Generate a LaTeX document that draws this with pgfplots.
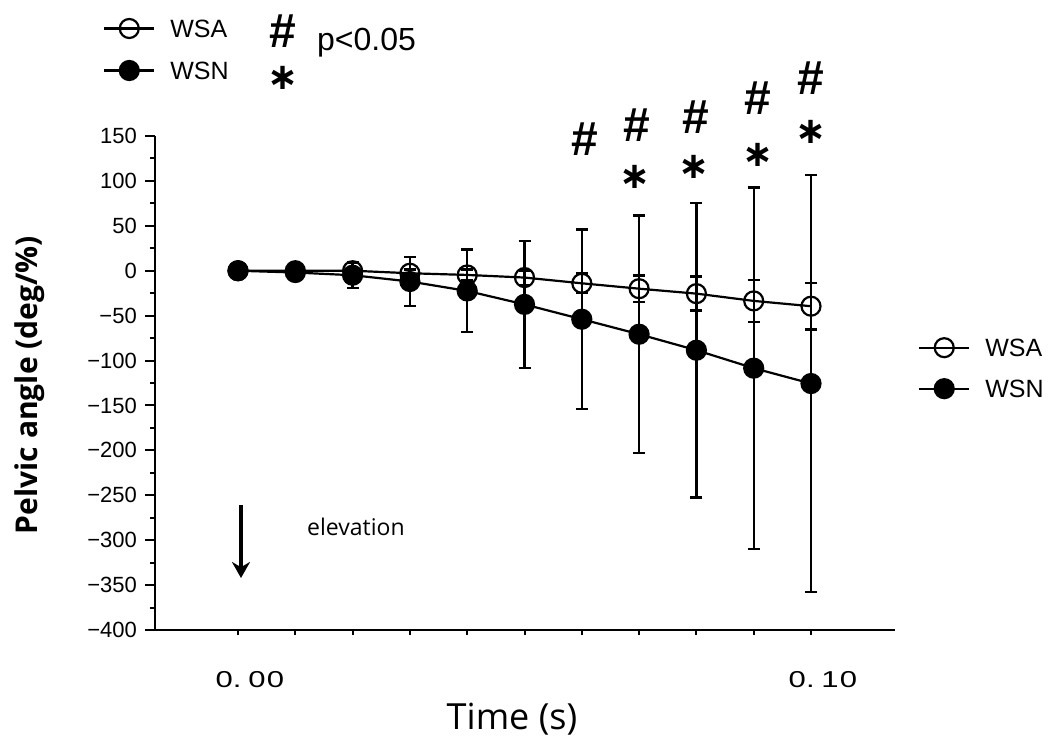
\documentclass[border=0pt]{standalone}
\usepackage{fontspec}
\setmainfont{Liberation Sans}
\newfontfamily\osans{Open Sans}
\newfontfamily\djv{DejaVu Sans}
\usepackage{graphicx}
\usepackage{pgfplots}
\usepackage{pgfplotstable}
\usetikzlibrary{arrows.meta}
\pgfplotsset{compat=1.18}

\pgfplotstableread{
x y e
0.00 0 0
0.01 0 1
0.02 0 2
0.03 -2.8 4
0.04 -4.7 6
0.05 -7.6 8
0.06 -14 11
0.07 -20 14.5
0.08 -25.5 19
0.09 -33.6 23.5
0.10 -39.5 26
}\wsa

\pgfplotstableread{
x y e
0.00 0 0
0.01 -2 3
0.02 -5 14
0.03 -12 27
0.04 -22.5 46
0.05 -37.5 70.5
0.06 -54 100
0.07 -70.7 132
0.08 -88.5 164
0.09 -108.5 201
0.10 -125.6 232
}\wsn

\pgfplotsset{
  commonaxis/.style={
    at={(155bp,110bp)}, anchor=south west,
    width=740bp, height=494bp, scale only axis,
    xmin=-0.014485, xmax=0.11466, ymin=-400, ymax=150,
    clip=false,
  },
  legimg/.style={
    legend image code/.code={
      \draw[mark repeat=2,mark phase=2,##1] plot coordinates {(0bp,0bp) (25bp,0bp) (50bp,0bp)};
    },
  },
  wsastyle/.style={black, line width=2.2bp, mark=o, mark size=9.5bp, mark options={line width=2.2bp, solid}},
  wsnstyle/.style={black, line width=2.2bp, mark=*, mark size=9.5bp, mark options={fill=black, solid}},
}

\begin{document}
\begin{tikzpicture}
\useasboundingbox (0,0) rectangle (1049bp,740bp);
\begin{axis}[
  commonaxis, legimg,
  axis x line*=bottom, axis y line*=left,
  axis line style={line width=2.5bp},
  tick align=outside,
  major tick length=10bp, minor tick length=5bp,
  tick style={line width=2bp, black},
  ytick={-400,-350,-300,-250,-200,-150,-100,-50,0,50,100,150},
  yticklabels={−400,−350,−300,−250,−200,−150,−100,−50,0,50,100,150},
  minor y tick num=1,
  xtick={0,0.1},
  xticklabels={\scalebox{1.35}[1]{0.\hspace{5bp}0\hspace{1bp}0},\scalebox{1.35}[1]{0.\hspace{5bp}1\hspace{1bp}0}},
  major x tick style={draw=none},
  minor xtick={0,0.01,0.02,0.03,0.04,0.05,0.06,0.07,0.08,0.09,0.1},
  yticklabel style={font=\fontsize{22bp}{24bp}\selectfont, inner sep=0pt, anchor=east, xshift=-8bp},
  xticklabel style={font=\fontsize{23bp}{25bp}\selectfont, inner sep=0pt, anchor=center, yshift=-40bp, xshift=12bp},
  legend style={draw=none, fill=none, at={(1.031,0.530)}, anchor=west, inner sep=0pt,
    font=\fontsize{25bp}{27bp}\selectfont, row sep=22bp, column sep=0pt,
    nodes={inner sep=0pt, text height=18bp, text depth=0pt},
    cells={anchor=west}},
  legend cell align=left,
]
\addplot+[wsastyle, error bars/.cd, y dir=both, y explicit,
  error bar style={line width=2.4bp, solid},
  error mark options={rotate=90, mark size=6bp, line width=2.4bp, black}]
  table[x=x, y=y, y error=e] {\wsa};
\addlegendentry{\hspace{15bp}WSA}
\addplot+[wsnstyle, error bars/.cd, y dir=both, y explicit,
  error bar style={line width=2.4bp, solid},
  error mark options={rotate=90, mark size=6bp, line width=2.4bp, black}]
  table[x=x, y=y, y error=e] {\wsn};
\addlegendentry{\hspace{15bp}WSN}
\end{axis}

\begin{axis}[
  commonaxis, legimg, hide axis,
  legend style={draw=none, fill=none, at={(-0.0703,1.1751)}, anchor=west, inner sep=0pt,
    font=\fontsize{25bp}{27bp}\selectfont, row sep=23bp, column sep=0pt,
    nodes={inner sep=0pt, text height=18bp, text depth=0pt},
    cells={anchor=west}},
]
\addlegendimage{wsastyle}
\addlegendentry{\hspace{15bp}WSA}
\addlegendimage{wsnstyle}
\addlegendentry{\hspace{15bp}WSN}
\end{axis}

% significance annotations
\tikzset{hash/.style={font=\bfseries\fontsize{48bp}{50bp}\selectfont, inner sep=0pt},
         ast/.style={font=\djv\bfseries\fontsize{37bp}{39bp}\selectfont, inner sep=0pt}}
\node[hash] at (283bp,709bp) {\#};
\node[ast] at (283bp,662bp) {∗};
\node[anchor=west, inner sep=0pt, font=\fontsize{32bp}{34bp}\selectfont] at (317bp,697bp) {p<0.05};

\node[hash] at (585bp,601bp) {\#};
\node[hash] at (637bp,615bp) {\#};
\node[ast] at (635bp,563bp) {∗};
\node[hash] at (696bp,623bp) {\#};
\node[ast] at (694bp,573bp) {∗};
\node[hash] at (758bp,642bp) {\#};
\node[ast] at (758bp,585bp) {∗};
\node[hash] at (811bp,662bp) {\#};
\node[ast] at (811bp,608bp) {∗};

% elevation arrow
\draw[line width=3.5bp, -{Stealth[length=16bp, width=18bp]}] (241bp,235bp) -- (241bp,162bp);
\node[anchor=west, inner sep=0pt, font=\osans\fontsize{23bp}{25bp}\selectfont] at (307bp,213bp) {elevation};

% axis labels
\node[rotate=90, inner sep=0pt, font=\osans\bfseries\fontsize{30bp}{32bp}\selectfont] at (30bp,355bp) {Pelvic angle (deg/\%)};
\node[inner sep=0pt, font=\osans\fontsize{36bp}{38bp}\selectfont] at (512bp,21bp) {Time (s)};
\end{tikzpicture}
\end{document}
